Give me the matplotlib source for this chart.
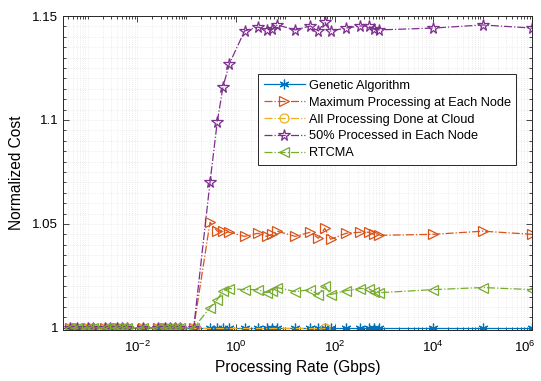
import numpy as np
import matplotlib
matplotlib.use("Agg")
import matplotlib.pyplot as plt
import matplotlib.transforms as mtransforms
from matplotlib.ticker import FixedLocator, LogLocator, LogFormatterSciNotation, MultipleLocator, NullFormatter

plt.rcParams['font.family'] = ['Liberation Sans', 'DejaVu Sans']
plt.rcParams['mathtext.fontset'] = 'custom'
plt.rcParams['mathtext.rm'] = 'Liberation Sans'

# processing rates (Gbps), shared by every curve
rate = [4.4e-4, 6.0e-4, 1.0e-3, 1.3e-3, 2.2e-3, 2.8e-3, 3.9e-3, 5.0e-3, 6.3e-3,
        0.013, 0.027, 0.037, 0.047, 0.059, 0.074, 0.14,
        0.30, 0.42, 0.55, 0.74, 1.5, 2.8, 4.2, 5.5, 6.9, 16, 32, 47, 63, 83,
        170, 330, 490, 620, 780, 1e4, 1e5, 1e6]

n_low = 16  # points below the jump, all at 1

genetic = [1.0] * len(rate)
max_node = [1.0] * n_low + [1.0508, 1.0465, 1.0465, 1.0460, 1.0440, 1.0455, 1.0440,
                            1.0450, 1.0465, 1.0440, 1.0460, 1.0431, 1.0479, 1.0426,
                            1.0455, 1.0460, 1.0460, 1.0450, 1.0445, 1.0450, 1.0465, 1.0450]
half_node = [1.0] * n_low + [1.070, 1.099, 1.116, 1.127, 1.1428, 1.1447, 1.1433,
                             1.1437, 1.1457, 1.1433, 1.1452, 1.1428, 1.1471, 1.1428,
                             1.1442, 1.1452, 1.1452, 1.1437, 1.1433, 1.1442, 1.1457, 1.1442]
rtcma = [1.0] * n_low + [1.0097, 1.0136, 1.0179, 1.0189, 1.0184, 1.0184, 1.0169,
                         1.0179, 1.0194, 1.0174, 1.0184, 1.0160, 1.0203, 1.0160,
                         1.0179, 1.0189, 1.0189, 1.0174, 1.0169, 1.0184, 1.0194, 1.0184]
cloud_rate = rate[:n_low] + [63]
cloud = [1.0] * len(cloud_rate)

fig = plt.figure(figsize=(5.41, 3.81), dpi=100)
ax = fig.add_axes([0.1165, 0.134, 0.867, 0.824])

ax.plot(rate, genetic, '-', color='#0072BD', lw=0.9, marker=(6, 2, 0), ms=7,
        mew=0.9, label='Genetic Algorithm')
ax.plot(rate, max_node, '-.', color='#D95319', lw=0.9, marker='>', ms=7.5,
        mfc='none', mew=0.9, label='Maximum Processing at Each Node')
ax.plot(cloud_rate, cloud, '-.', color='#EDB120', lw=0.9, marker='o', ms=6.5,
        mfc='none', mew=0.9, label='All Processing Done at Cloud')
ax.plot(rate, half_node, '-.', color='#7E2F8E', lw=0.9, marker='*', ms=8.5,
        mfc='none', mew=0.9, label='50% Processed in Each Node')
ax.plot(rate, rtcma, '-.', color='#77AC30', lw=0.9, marker='<', ms=7.5,
        mfc='none', mew=0.9, label='RTCMA')

ax.set_xscale('log')
ax.set_xlim(10 ** -3.5, 1e6)
ax.set_ylim(0.999, 1.15)

ax.xaxis.set_major_locator(FixedLocator([1e-2, 1, 1e2, 1e4, 1e6]))
ax.xaxis.set_major_formatter(LogFormatterSciNotation())
ax.xaxis.set_minor_locator(LogLocator(base=10, subs=np.arange(1, 10), numticks=100))
ax.xaxis.set_minor_formatter(NullFormatter())
ax.set_yticks([1, 1.05, 1.1, 1.15])
ax.set_yticklabels(['1', '1.05', '1.1', '1.15'])
ax.yaxis.set_minor_locator(MultipleLocator(0.005))

ax.tick_params(which='both', direction='in', top=True, right=True, labelsize=9.5,
               color='#262626', width=0.6)
ax.tick_params(which='major', length=4)
ax.tick_params(axis='x', which='major', pad=7)
ax.tick_params(which='minor', length=2)
ax.grid(True, which='both', linestyle=(0, (1, 2)), color='#dedede', lw=0.5)
for s in ax.spines.values():
    s.set_color('#262626')
    s.set_linewidth(0.7)

ax.set_xlabel('Processing Rate (Gbps)', fontsize=11.2, labelpad=4)
ax.set_ylabel('Normalized Cost', fontsize=11.2, labelpad=6)

leg = ax.legend(loc='upper left', bbox_to_anchor=(0.416, 0.815), fontsize=9.2,
                numpoints=1, handlelength=3.2, fancybox=False, framealpha=1,
                edgecolor='#262626', borderpad=0.45, labelspacing=0.38,
                handletextpad=0.3, borderaxespad=0)
leg.get_frame().set_linewidth(0.7)

# nudge the last tick label so it stays inside the canvas
fig.canvas.draw()
last = ax.xaxis.get_major_ticks()[-1].label1
last.set_transform(last.get_transform()
                   + mtransforms.ScaledTranslation(-5 / 72, 0, fig.dpi_scale_trans))

fig.savefig('out.png', dpi=100)
